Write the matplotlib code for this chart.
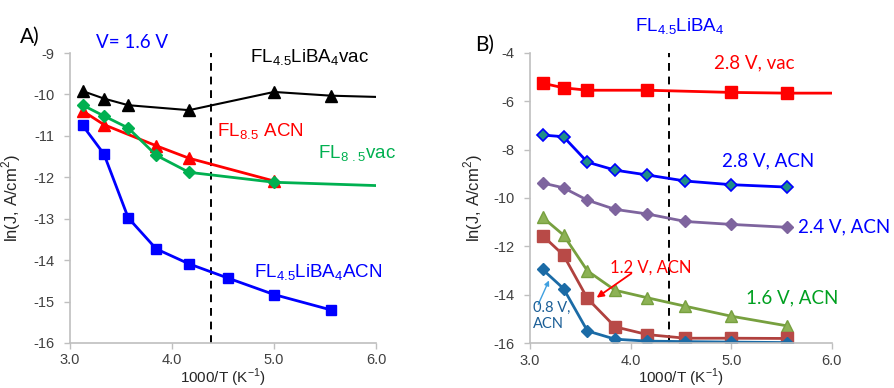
import numpy as np
import matplotlib
matplotlib.use('Agg')
import matplotlib.pyplot as plt

plt.rcParams['font.family'] = ['Liberation Sans', 'DejaVu Sans']
plt.rcParams['mathtext.fontset'] = 'custom'
plt.rcParams['mathtext.rm'] = 'Lato'
plt.rcParams['axes.unicode_minus'] = False

# 1000/T values (K^-1)
x_a_black = [3.125, 3.333, 3.571, 4.167, 5.0, 5.556, 6.0]
y_a_black = [-9.92, -10.10, -10.26, -10.38, -9.94, -10.03, -10.06]
x_a_red = [3.125, 3.333, 3.846, 4.167, 5.0]
y_a_red = [-10.40, -10.73, -11.24, -11.54, -12.09]
x_a_green = [3.125, 3.333, 3.571, 3.846, 4.167, 5.0, 6.0]
y_a_green = [-10.26, -10.52, -10.81, -11.47, -11.88, -12.12, -12.20]
x_a_blue = [3.125, 3.333, 3.571, 3.846, 4.167, 4.545, 5.0, 5.556]
y_a_blue = [-10.75, -11.44, -12.98, -13.73, -14.09, -14.43, -14.83, -15.20]

x_b = [3.125, 3.333, 3.571, 3.846, 4.167, 4.545, 5.0, 5.556]
x_b_vac = [3.125, 3.333, 3.571, 4.167, 5.0, 5.556, 6.0]
y_b_28vac = [-5.26, -5.45, -5.55, -5.55, -5.64, -5.67, -5.67]
y_b_28acn = [-7.40, -7.47, -8.52, -8.85, -9.05, -9.30, -9.45, -9.55]
y_b_24acn = [-9.38, -9.58, -10.09, -10.47, -10.66, -10.97, -11.09, -11.21]
y_b_16acn = [-10.80, -11.53, -13.01, -13.81, -14.12, -14.47, -14.88, -15.28]
y_b_12acn = [-11.55, -12.36, -14.15, -15.32, -15.64, -15.79, -15.79, -15.80]
y_b_08acn = [-12.95, -13.74, -15.49, -15.83, -15.91, -15.93, -15.95, -15.97]

x_dash = 4.385
ann_font = 'Lato'

fig = plt.figure(figsize=(8.95, 3.88), dpi=100)
ax1 = fig.add_axes([0.0782, 0.116, 0.3419, 0.7474])
ax2 = fig.add_axes([0.5922, 0.1152, 0.3371, 0.749])

def style(ax, ylim, yticks, ylab_x):
    ax.set_xlim(3, 6)
    ax.set_ylim(*ylim)
    ax.set_xticks([3, 4, 5, 6])
    ax.set_xticklabels(['3.0', '4.0', '5.0', '6.0'])
    ax.set_yticks(yticks)
    for s in ['top', 'right']:
        ax.spines[s].set_visible(False)
    for s in ['left', 'bottom']:
        ax.spines[s].set_color('#BFBFBF')
        ax.spines[s].set_linewidth(1.2)
    ax.tick_params(colors='#BFBFBF', labelcolor='#404040', labelsize=10.5, length=4, width=1)
    ax.tick_params(axis='y', pad=7)
    ax.tick_params(axis='x', pad=3.5)
    ax.set_xlabel('1000/T (K$^{\\mathregular{-1}}$)', fontsize=11, color='#262626')
    ax.set_ylabel('ln(J, A/cm$^{\\mathregular{2}}$)', fontsize=12, color='#262626')
    ax.xaxis.set_label_coords(0.5, -0.082)
    ax.yaxis.set_label_coords(ylab_x, 0.5)
    ax.axvline(x_dash, color='black', ls=(0, (4, 3)), lw=1.4)

# panel A
style(ax1, (-16, -9), range(-16, -8), -0.154)
ax1.plot(x_a_black, y_a_black, color='black', lw=1.5)
ax1.plot(x_a_black[:-1], y_a_black[:-1], 'k^', ms=8, ls='none')
ax1.plot(x_a_red, y_a_red, color='#FF0000', lw=2, marker='^', ms=8)
ax1.plot(x_a_green, y_a_green, color='#00B050', lw=2)
ax1.plot(x_a_green[:-1], y_a_green[:-1], color='#00B050', marker='D', ms=6, ls='none')
ax1.plot(x_a_blue, y_a_blue, color='#0000FF', lw=2, marker='s', ms=7.5)

fig.text(0.022, 0.89, 'A)', fontsize=15, family=ann_font)
fig.text(0.107, 0.875, 'V= 1.6 V', fontsize=13.5, color='#0000FF', family=ann_font)
fig.text(0.279, 0.84, '$\\mathregular{FL_{4.5}LiBA_4vac}$', fontsize=13.5, color='black')
fig.text(0.243, 0.65, '$\\mathregular{FL_{8.5}\\ ACN}$', fontsize=13.5, color='#FF0000')
fig.text(0.355, 0.593, '$\\mathregular{FL_{8\\ .5}vac}$', fontsize=13.5, color='#00B050')
fig.text(0.284, 0.285, '$\\mathregular{FL_{4.5}LiBA_4ACN}$', fontsize=13.5, color='#0000FF')

# panel B
style(ax2, (-16, -4), range(-16, -3, 2), -0.149)
ax2.plot(x_b_vac, y_b_28vac, color='#FF0000', lw=2)
ax2.plot(x_b_vac[:-1], y_b_28vac[:-1], color='#FF0000', marker='s', ms=8, ls='none')
ax2.plot(x_b, y_b_28acn, color='#0000FF', lw=2, marker='D', ms=6.5,
         mfc='#1F8F88', mec='#0000FF', mew=1.2)
ax2.plot(x_b, y_b_24acn, color='#7E649E', lw=2, marker='D', ms=6.5)
ax2.plot(x_b, y_b_16acn, color='#77A03F', lw=2, marker='^', ms=8.5,
         mfc='#8DB255', mec='#77A03F')
ax2.plot(x_b, y_b_12acn, color='#B0413E', lw=2, marker='s', ms=8.5,
         mfc='#B84A47', mec='#B84A47')
ax2.plot(x_b, y_b_08acn, color='#1B6BA6', lw=2, marker='D', ms=6.5)

fig.text(0.709, 0.92, '$\\mathregular{FL_{4.5}LiBA_4}$', fontsize=13.5, color='#0000FF')
fig.text(0.531, 0.868, 'B)', fontsize=15, family=ann_font)
fig.text(0.798, 0.825, '2.8 V, vac', fontsize=13.5, color='#FF0000', family=ann_font)
fig.text(0.807, 0.572, '2.8 V, ACN', fontsize=13.5, color='#0000FF', family=ann_font)
fig.text(0.892, 0.400, '2.4 V, ACN', fontsize=13.5, color='#0000FF', family=ann_font)
fig.text(0.833, 0.217, '1.6 V, ACN', fontsize=13.5, color='#00A020', family=ann_font)
fig.text(0.682, 0.298, '1.2 V, ACN', fontsize=12, color='#FF0000', family=ann_font)
fig.text(0.595, 0.155, '0.8 V,\nACN', fontsize=10.5, color='#1B5E96', family=ann_font,
         linespacing=1.2)
ax2.annotate('', xy=(3.64, -14.18), xytext=(4.03, -13.05),
             arrowprops=dict(arrowstyle='-|>', color='#FF0000', lw=1.3, mutation_scale=10))
ax2.annotate('', xy=(3.2, -13.3), xytext=(3.07, -14.5),
             arrowprops=dict(arrowstyle='-|>', color='#3FA0E0', lw=1, mutation_scale=7))

fig.savefig('out.png', dpi=100)
